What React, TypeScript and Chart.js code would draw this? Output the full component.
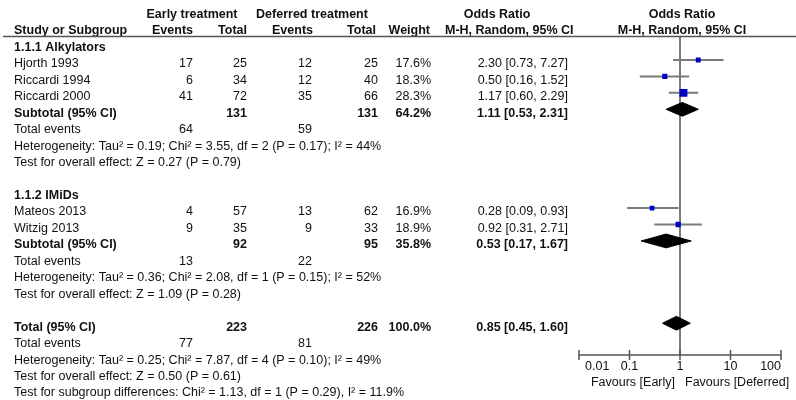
import React, { useEffect, useRef } from "react";
import { Chart, registerables } from "chart.js";
Chart.register(...registerables);

// ---------- data ----------
const groupNames = ["1.1.1 Alkylators", "1.1.2 IMiDs"];
const studyNames = ["Hjorth 1993", "Riccardi 1994", "Riccardi 2000", "Mateos 2013", "Witzig 2013"];
const studyGroup = [0, 0, 0, 1, 1];
const earlyEvents = [17, 6, 41, 4, 9];
const earlyTotal = [25, 34, 72, 57, 35];
const deferredEvents = [12, 12, 35, 13, 9];
const deferredTotal = [25, 40, 66, 62, 33];
const studyWeight = [17.6, 18.3, 28.3, 16.9, 18.9];
const studyOR = [2.3, 0.5, 1.17, 0.28, 0.92];
const studyLower = [0.73, 0.16, 0.6, 0.09, 0.31];
const studyUpper = [7.27, 1.52, 2.29, 0.93, 2.71];

const groupEarlyTotal = [131, 92];
const groupDeferredTotal = [131, 95];
const groupEarlyEvents = [64, 13];
const groupDeferredEvents = [59, 22];
const groupWeight = [64.2, 35.8];
const groupOR = [1.11, 0.53];
const groupLower = [0.53, 0.17];
const groupUpper = [2.31, 1.67];
const groupHeterogeneity = [
  "Heterogeneity: Tau² = 0.19; Chi² = 3.55, df = 2 (P = 0.17); I² = 44%",
  "Heterogeneity: Tau² = 0.36; Chi² = 2.08, df = 1 (P = 0.15); I² = 52%",
];
const groupOverall = [
  "Test for overall effect: Z = 0.27 (P = 0.79)",
  "Test for overall effect: Z = 1.09 (P = 0.28)",
];

const totalEarly = 223;
const totalDeferred = 226;
const totalEarlyEvents = 77;
const totalDeferredEvents = 81;
const totalWeight = 100.0;
const totalOR = 0.85;
const totalLower = 0.45;
const totalUpper = 1.6;
const totalHeterogeneity = "Heterogeneity: Tau² = 0.25; Chi² = 7.87, df = 4 (P = 0.10); I² = 49%";
const totalOverall = "Test for overall effect: Z = 0.50 (P = 0.61)";
const subgroupTest = "Test for subgroup differences: Chi² = 1.13, df = 1 (P = 0.29), I² = 11.9%";

const xTicks = [0.01, 0.1, 1, 10, 100];
const xTickLabels = ["0.01", "0.1", "1", "10", "100"];
const favoursLeft = "Favours [Early]";
const favoursRight = "Favours [Deferred]";

// ---------- layout of rows (row index units) ----------
type Row = { kind: string; idx: number; r: number };
const rows: Row[] = [];
const studyRow: number[] = [];
const groupSubRow: number[] = [];
let rr = 0;
for (let g = 0; g < groupNames.length; g++) {
  rows.push({ kind: "group", idx: g, r: rr++ });
  studyNames.forEach((_, i) => {
    if (studyGroup[i] === g) {
      studyRow[i] = rr;
      rows.push({ kind: "study", idx: i, r: rr++ });
    }
  });
  groupSubRow[g] = rr;
  rows.push({ kind: "subtotal", idx: g, r: rr++ });
  rows.push({ kind: "gevents", idx: g, r: rr++ });
  rows.push({ kind: "ghet", idx: g, r: rr++ });
  rows.push({ kind: "gtest", idx: g, r: rr++ });
  rr++;
}
const totalRow = rr;
rows.push({ kind: "total", idx: 0, r: rr++ });
rows.push({ kind: "tevents", idx: 0, r: rr++ });
rows.push({ kind: "thet", idx: 0, r: rr++ });
rows.push({ kind: "ttest", idx: 0, r: rr++ });
rows.push({ kind: "tsub", idx: 0, r: rr++ });

const MARK = -0.24; // marks sit slightly above text centre
const DH = 0.42; // diamond half height in rows
const AXIS_ROW = 18.69;
const TOP_ROW = -0.66;
const Y_MIN = -2.542;

const FONT = '"Liberation Sans", Arial, Helvetica, sans-serif';
const FS = 12.5;

const fmtOR = (o: number, l: number, u: number) => `${o.toFixed(2)} [${l.toFixed(2)}, ${u.toFixed(2)}]`;

function diamond(o: number, l: number, u: number, r: number) {
  const y = r + MARK;
  return [
    { x: l, y },
    { x: o, y: y - DH },
    { x: u, y },
    { x: o, y: y + DH },
    { x: l, y },
  ];
}

export default function App() {
  const ref = useRef<HTMLCanvasElement>(null);
  useEffect(() => {
    const canvas = ref.current!;
    const datasets: any[] = [];
    // squares
    datasets.push({
      data: studyOR.map((o, i) => ({ x: o, y: studyRow[i] + MARK })),
      pointStyle: "rect",
      pointRadius: studyWeight.map((w) => (w * 0.28) / Math.SQRT2),
      backgroundColor: "#0000c8",
      borderWidth: 0,
      showLine: false,
    });
    // diamonds
    groupOR.forEach((o, g) => {
      datasets.push({
        data: diamond(o, groupLower[g], groupUpper[g], groupSubRow[g]),
        showLine: true,
        fill: "shape",
        backgroundColor: "#000",
        borderColor: "#000",
        borderWidth: 1,
        pointRadius: 0,
      });
    });
    datasets.push({
      data: diamond(totalOR, totalLower, totalUpper, totalRow),
      showLine: true,
      fill: "shape",
      backgroundColor: "#000",
      borderColor: "#000",
      borderWidth: 1,
      pointRadius: 0,
    });
    // CI lines
    studyOR.forEach((_, i) => {
      datasets.push({
        data: [
          { x: studyLower[i], y: studyRow[i] + MARK },
          { x: studyUpper[i], y: studyRow[i] + MARK },
        ],
        showLine: true,
        borderColor: "#7a7a7a",
        borderWidth: 2,
        pointRadius: 0,
      });
    });
    // line of no effect
    datasets.push({
      data: [
        { x: 1, y: TOP_ROW },
        { x: 1, y: AXIS_ROW },
      ],
      showLine: true,
      borderColor: "#7a7a7a",
      borderWidth: 2,
      pointRadius: 0,
    });

    const textPlugin = {
      id: "forestText",
      afterDraw(chart: any) {
        const ctx: CanvasRenderingContext2D = chart.ctx;
        const xs = chart.scales.x;
        const ys = chart.scales.y;
        const Y = (r: number) => ys.getPixelForValue(r);
        const X = (v: number) => xs.getPixelForValue(v);
        const t = (s: string, x: number, y: number, align: CanvasTextAlign, bold = false) => {
          ctx.font = `${bold ? "bold " : ""}${FS}px ${FONT}`;
          ctx.textAlign = align;
          ctx.textBaseline = "middle";
          ctx.fillStyle = "#111";
          ctx.fillText(s, x, y);
        };
        ctx.save();
        // header
        const h1 = Y(-2.0);
        const h2 = Y(-1.05);
        t("Early treatment", 192, h1, "center", true);
        t("Deferred treatment", 312, h1, "center", true);
        t("Odds Ratio", 497, h1, "center", true);
        t("Odds Ratio", X(1) + 2, h1, "center", true);
        t("Study or Subgroup", 14, h2, "left", true);
        t("Events", 193, h2, "right", true);
        t("Total", 247, h2, "right", true);
        t("Events", 313, h2, "right", true);
        t("Total", 376, h2, "right", true);
        t("Weight", 430, h2, "right", true);
        t("M-H, Random, 95% CI", 445, h2, "left", true);
        t("M-H, Random, 95% CI", X(1) + 2, h2, "center", true);
        // header rule
        ctx.strokeStyle = "#555";
        ctx.lineWidth = 1.5;
        ctx.beginPath();
        ctx.moveTo(3, Y(TOP_ROW));
        ctx.lineTo(796, Y(TOP_ROW));
        ctx.stroke();

        rows.forEach((row) => {
          const y = Y(row.r);
          const i = row.idx;
          switch (row.kind) {
            case "group":
              t(groupNames[i], 14, y, "left", true);
              break;
            case "study":
              t(studyNames[i], 14, y, "left");
              t(String(earlyEvents[i]), 193, y, "right");
              t(String(earlyTotal[i]), 247, y, "right");
              t(String(deferredEvents[i]), 312, y, "right");
              t(String(deferredTotal[i]), 378, y, "right");
              t(`${studyWeight[i].toFixed(1)}%`, 431, y, "right");
              t(fmtOR(studyOR[i], studyLower[i], studyUpper[i]), 568, y, "right");
              break;
            case "subtotal":
              t("Subtotal (95% CI)", 14, y, "left", true);
              t(String(groupEarlyTotal[i]), 247, y, "right", true);
              t(String(groupDeferredTotal[i]), 378, y, "right", true);
              t(`${groupWeight[i].toFixed(1)}%`, 431, y, "right", true);
              t(fmtOR(groupOR[i], groupLower[i], groupUpper[i]), 568, y, "right", true);
              break;
            case "gevents":
              t("Total events", 14, y, "left");
              t(String(groupEarlyEvents[i]), 193, y, "right");
              t(String(groupDeferredEvents[i]), 312, y, "right");
              break;
            case "ghet":
              t(groupHeterogeneity[i], 14, y, "left");
              break;
            case "gtest":
              t(groupOverall[i], 14, y, "left");
              break;
            case "total":
              t("Total (95% CI)", 14, y, "left", true);
              t(String(totalEarly), 247, y, "right", true);
              t(String(totalDeferred), 378, y, "right", true);
              t(`${totalWeight.toFixed(1)}%`, 431, y, "right", true);
              t(fmtOR(totalOR, totalLower, totalUpper), 568, y, "right", true);
              break;
            case "tevents":
              t("Total events", 14, y, "left");
              t(String(totalEarlyEvents), 193, y, "right");
              t(String(totalDeferredEvents), 312, y, "right");
              break;
            case "thet":
              t(totalHeterogeneity, 14, y, "left");
              break;
            case "ttest":
              t(totalOverall, 14, y, "left");
              break;
            case "tsub":
              t(subgroupTest, 14, y, "left");
              break;
          }
        });

        // axis
        const ay = Y(AXIS_ROW);
        ctx.strokeStyle = "#555";
        ctx.lineWidth = 1.5;
        ctx.beginPath();
        ctx.moveTo(X(xTicks[0]), ay);
        ctx.lineTo(X(xTicks[xTicks.length - 1]), ay);
        xTicks.forEach((v) => {
          ctx.moveTo(X(v), ay - 5);
          ctx.lineTo(X(v), ay + 5);
        });
        ctx.stroke();
        const ly = ay + 12;
        xTicks.forEach((v, k) => {
          if (k === 0) t(xTickLabels[k], X(v) + 6, ly, "left");
          else if (k === xTicks.length - 1) t(xTickLabels[k], X(v), ly, "right");
          else t(xTickLabels[k], X(v), ly, "center");
        });
        t(favoursLeft, X(1) - 5, ay + 28, "right");
        t(favoursRight, X(1) + 5, ay + 28, "left");
        ctx.restore();
      },
    };

    const chart = new Chart(canvas, {
      type: "scatter",
      data: { datasets },
      options: {
        responsive: false,
        animation: false,
        events: [],
        layout: { padding: { left: 579, right: 15, top: 0, bottom: 45 } },
        plugins: { legend: { display: false }, tooltip: { enabled: false } },
        scales: {
          x: { type: "logarithmic", min: 0.01, max: 100, display: false },
          y: { type: "linear", reverse: true, min: Y_MIN, max: AXIS_ROW, display: false },
        },
      } as any,
      plugins: [textPlugin],
    });
    return () => chart.destroy();
  }, []);
  return (
    <div style={{ position: "absolute", left: 0, top: 0, width: 796, height: 400, background: "#fff" }}>
      <canvas ref={ref} width={796} height={400} style={{ width: 796, height: 400, display: "block" }} />
    </div>
  );
}
